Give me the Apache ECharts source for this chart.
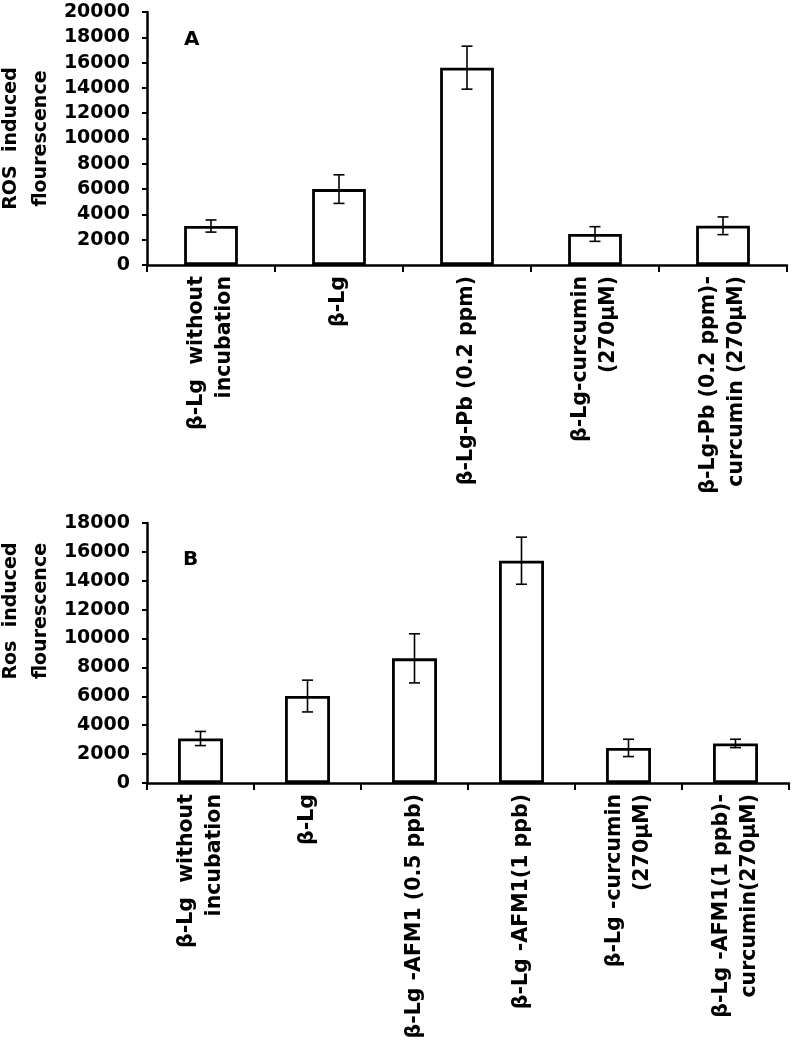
<!DOCTYPE html>
<html>
<head>
<meta charset="utf-8">
<script src="https://cdn.jsdelivr.net/npm/echarts@6/dist/echarts.min.js"></script>
<style>
html,body{margin:0;padding:0;background:#fff;}
#c{width:793px;height:1040px;}
</style>
</head>
<body>
<div id="c"></div>
<script>
// ---- Data (panel A) ----
const catsA = ['β-Lg  without\nincubation', 'β-Lg', 'β-Lg-Pb (0.2 ppm)', 'β-Lg-curcumin\n(270μM)', 'β-Lg-Pb (0.2 ppm)-\ncurcumin (270μM)'];
const valsA = [3080, 6000, 15600, 2450, 3100];
const errA  = [480, 1130, 1700, 580, 700];
// ---- Data (panel B) ----
const catsB = ['β-Lg  without\nincubation', 'β-Lg', 'β-Lg -AFM1 (0.5 ppb)', 'β-Lg -AFM1(1 ppb)', 'β-Lg -curcumin\n(270μM)', 'β-Lg -AFM1(1 ppb)-\ncurcumin(270μM)'];
const valsB = [3080, 6020, 8630, 15390, 2430, 2740];
const errB  = [490, 1100, 1700, 1630, 600, 290];
// ---- Axis text ----
const yNameA = 'ROS  induced\nflourescence';
const yNameB = 'Ros  induced\nflourescence';
const panelA = 'A';
const panelB = 'B';

const FF = '"DejaVu Sans", Verdana, sans-serif';
const chart = echarts.init(document.getElementById('c'), null, {renderer: 'canvas'});

function errData(vals, errs) {
  return vals.map((v, i) => [i, v - errs[i], v + errs[i]]);
}
function errRender(params, api) {
  const x = api.value(0);
  const lo = api.coord([x, api.value(1)]);
  const hi = api.coord([x, api.value(2)]);
  const w = 5.5;
  const st = {stroke: '#000', lineWidth: 1.6};
  return {type: 'group', children: [
    {type: 'line', shape: {x1: hi[0], y1: hi[1], x2: lo[0], y2: lo[1]}, style: st},
    {type: 'line', shape: {x1: hi[0] - w, y1: hi[1], x2: hi[0] + w, y2: hi[1]}, style: st},
    {type: 'line', shape: {x1: lo[0] - w, y1: lo[1], x2: lo[0] + w, y2: lo[1]}, style: st}
  ]};
}
function xAxisCfg(gi, cats) {
  return {
    type: 'category', gridIndex: gi, data: cats, boundaryGap: true,
    axisLine: {lineStyle: {color: '#000', width: 2.5}},
    axisTick: {show: true, length: 7, interval: 0, lineStyle: {color: '#000', width: 2}},
    axisLabel: {rotate: 90, interval: 0, margin: 11, color: '#000', fontSize: 20.5, fontWeight: 'bold', fontFamily: FF, lineHeight: 28}
  };
}
function yAxisCfg(gi, max, name, pad) {
  return {
    type: 'value', gridIndex: gi, min: 0, max: max, interval: 2000,
    name: name, nameLocation: 'middle', nameGap: 91, nameMoveOverlap: false,
    nameTextStyle: {color: '#000', fontSize: 19, fontWeight: 'bold', fontFamily: FF, lineHeight: 30, padding: pad},
    axisLine: {show: true, lineStyle: {color: '#000', width: 2.5}},
    axisTick: {show: true, length: 5, lineStyle: {color: '#000', width: 2}},
    splitLine: {show: false},
    axisLabel: {color: '#000', fontSize: 19, fontWeight: 'bold', fontFamily: FF, margin: 17,
      formatter: v => String(v)}
  };
}
const barStyle = {color: '#fff', borderColor: '#000', borderWidth: 2.8};

const option = {
  animation: false,
  backgroundColor: '#fff',
  grid: [
    {left: 147, right: 6, top: 12, height: 253, outerBoundsMode: 'none', containLabel: false},
    {left: 147, right: 4, top: 523, height: 260, outerBoundsMode: 'none', containLabel: false}
  ],
  xAxis: [xAxisCfg(0, catsA), xAxisCfg(1, catsB)],
  yAxis: [yAxisCfg(0, 20000, yNameA, [0, 0, 0, 0]), yAxisCfg(1, 18000, yNameB, [0, 0, 0, 84])],
  graphic: [
    {type: 'text', left: 184, top: 30, style: {text: panelA, font: 'bold 20px ' + FF, fill: '#000'}},
    {type: 'text', left: 183, top: 550, style: {text: panelB, font: 'bold 20px ' + FF, fill: '#000'}}
  ],
  series: [
    {type: 'bar', xAxisIndex: 0, yAxisIndex: 0, data: valsA, barWidth: '42%', itemStyle: barStyle},
    {type: 'custom', xAxisIndex: 0, yAxisIndex: 0, data: errData(valsA, errA), renderItem: errRender, z: 5},
    {type: 'bar', xAxisIndex: 1, yAxisIndex: 1, data: valsB, barWidth: '42%', itemStyle: barStyle},
    {type: 'custom', xAxisIndex: 1, yAxisIndex: 1, data: errData(valsB, errB), renderItem: errRender, z: 5}
  ]
};
chart.setOption(option);
</script>
</body>
</html>
